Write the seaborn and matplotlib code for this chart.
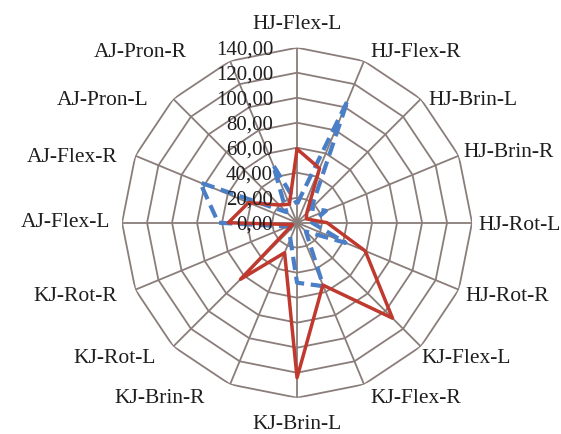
import numpy as np
import pandas as pd
import matplotlib
matplotlib.use("Agg")
import matplotlib.pyplot as plt
import matplotlib.transforms as mtransforms
import seaborn as sns

# Joint / movement categories, clockwise from the top
categories = ["HJ-Flex-L", "HJ-Flex-R", "HJ-Brin-L", "HJ-Brin-R", "HJ-Rot-L", "HJ-Rot-R",
              "KJ-Flex-L", "KJ-Flex-R", "KJ-Brin-L", "KJ-Brin-R", "KJ-Rot-L", "KJ-Rot-R",
              "AJ-Flex-L", "AJ-Flex-R", "AJ-Pron-L", "AJ-Pron-R"]

# Series values (solid red and dashed blue)
red_values = [59, 47, 11, 8, 24, 59, 108, 54, 124, 26, 64, 4, 55, 42, 20, 16]
blue_values = [15, 106, 16, 25, 12, 42, 10, 55, 48, 14, 8, 8, 63, 84, 12, 50]

# Radial scale
ring_values = [20, 40, 60, 80, 100, 120, 140]
tick_values = [0, 20, 40, 60, 80, 100, 120, 140]
tick_labels = ["0,00", "20,00", "40,00", "60,00", "80,00", "100,00", "120,00", "140,00"]

# Category label placement: pixel offsets from the chart centre and alignment
label_offsets = [(0, 198), (73, 170), (131, 122), (166, 70), (181, -3), (168, -74),
                 (124, -136), (73, -176), (0, -202), (-92, -176), (-141, -136), (-180, -74),
                 (-187, 0), (-180, 65), (-149, 122), (-110, 170)]

sns.set_theme(style="white")
plt.rcParams["font.family"] = ["Liberation Serif", "DejaVu Serif"]

n = len(categories)
theta = np.linspace(0, 2 * np.pi, n, endpoint=False)
theta_closed = np.append(theta, 2 * np.pi)

df_red = pd.DataFrame({"theta": theta_closed, "value": red_values + red_values[:1]})
df_blue = pd.DataFrame({"theta": theta_closed, "value": blue_values + blue_values[:1]})

fig = plt.figure(figsize=(5.61, 4.34), dpi=100)
ax = fig.add_axes([0.2175, 0.0836, 0.624, 0.8065], projection="polar")
ax.set_theta_zero_location("N")
ax.set_theta_direction(-1)
ax.set_ylim(0, 140)
ax.grid(False)
ax.set_xticks([])
ax.set_yticks([])
ax.spines["polar"].set_visible(False)
ax.set_facecolor("white")

grid_color = "#8a7d7a"
# polygonal rings
for rv in ring_values:
    ax.plot(theta_closed, [rv] * (n + 1), color=grid_color, lw=1.3, zorder=1)
# spokes
for t in theta:
    ax.plot([t, t], [0, 140], color=grid_color, lw=1.3, zorder=1)

sns.lineplot(data=df_blue, x="theta", y="value", sort=False, estimator=None,
             color="#4a7ec6", linewidth=3.0, linestyle=(0, (3.2, 1.6)), ax=ax, zorder=3)
sns.lineplot(data=df_red, x="theta", y="value", sort=False, estimator=None,
             color="#c0392e", linewidth=2.5, ax=ax, zorder=4)
ax.set_xlabel("")
ax.set_ylabel("")

text_color = "#1e1e1e"

# radial value labels along the top spoke
off = mtransforms.offset_copy(ax.transData, fig=fig, x=-24, y=-2, units="dots")
for v, lab in zip(tick_values, tick_labels):
    ax.text(0, v, lab, transform=off, ha="right", va="center",
            fontsize=15, color=text_color, zorder=5)

# category labels around the chart
for lab, (dx, dy) in zip(categories, label_offsets):
    ha = "center" if dx == 0 else ("left" if dx > 0 else "right")
    tr = mtransforms.offset_copy(ax.transData, fig=fig, x=dx, y=dy, units="dots")
    ax.text(0, 0, lab, transform=tr, ha=ha, va="center",
            fontsize=15.5, color=text_color, clip_on=False)

fig.savefig("out.png", dpi=100, facecolor="white")
